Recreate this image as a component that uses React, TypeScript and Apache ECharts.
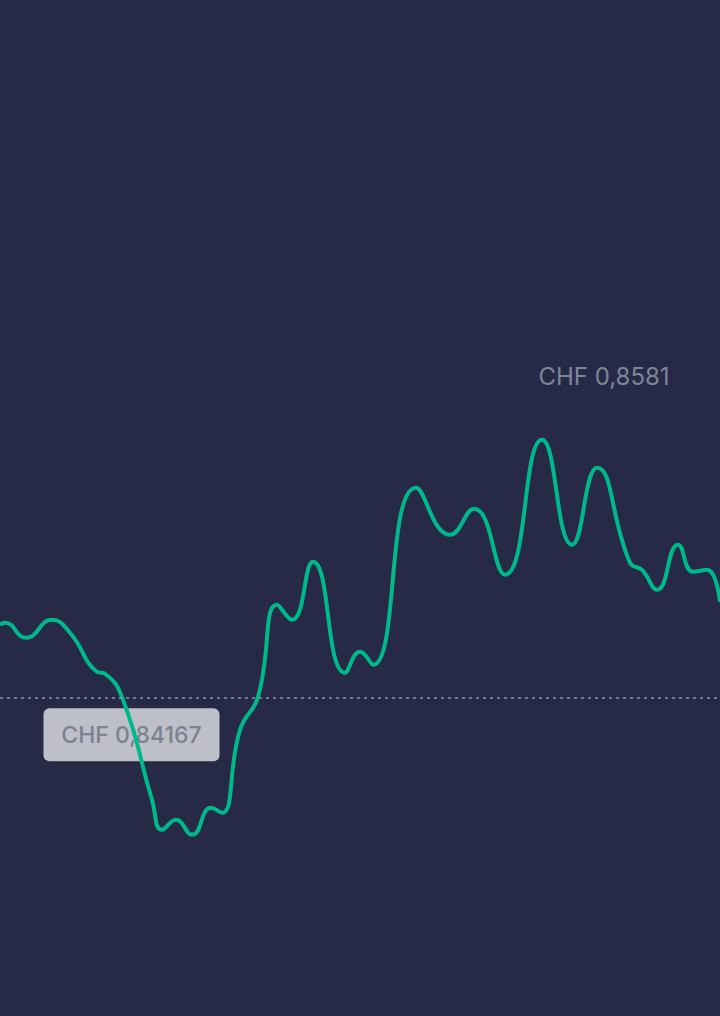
import React, { useEffect, useRef } from "react";
import * as echarts from "echarts";

const refValue = 0.84167;
const refLabel = "CHF 0,84167";

// hour of the period (0..720) and the CHF rate at that hour
const hours: number[] = [
  0, 5, 26, 52, 70, 97, 105, 123, 152, 162, 176, 192, 211, 222, 240, 258, 277, 292, 313, 345,
  360, 373, 416, 450, 474, 505, 542, 572, 597, 630, 642, 657, 678, 693, 707, 720,
];

const rates: number[] = [
  0.84632, 0.84645, 0.84549, 0.84664, 0.84581, 0.84333, 0.8432, 0.84154, 0.83517, 0.83326,
  0.8339, 0.83294, 0.83466, 0.83434, 0.83963, 0.84173, 0.84759, 0.84664, 0.85033, 0.84326,
  0.8446, 0.84377, 0.85505, 0.85205, 0.85371, 0.84951, 0.8581, 0.85142, 0.85632, 0.85027,
  0.84982, 0.84855, 0.85142, 0.8497, 0.84982, 0.84779,
];

const fmtChf = (v: number, d: number) => "CHF " + v.toFixed(d).replace(".", ",");

export default function App() {
  const ref = useRef<HTMLDivElement>(null);

  useEffect(() => {
    if (!ref.current) return;
    const chart = echarts.init(ref.current, undefined, { renderer: "svg" });
    chart.setOption({
      animation: false,
      backgroundColor: "#262a47",
      grid: { left: 0, right: 0, top: 253, bottom: 56.5 },
      xAxis: { type: "value", min: 0, max: 720, show: false },
      yAxis: { type: "value", min: 0.825, max: 0.87, show: false },
      series: [
        {
          type: "line",
          data: hours.map((h, i) => [h, rates[i]]),
          smooth: 0.5,
          symbol: "none",
          lineStyle: { color: "#00b98b", width: 4 },
          markLine: {
            silent: true,
            symbol: "none",
            precision: 5,
            label: { show: false },
            lineStyle: { color: "#8f93a6", width: 1.5, type: [3, 4] },
            data: [{ yAxis: refValue }],
          },
          markPoint: {
            silent: true,
            symbol: "circle",
            symbolSize: 0,
            data: [{ type: "max", valueDim: "y" }],
            label: {
              show: true,
              position: "top",
              distance: 0,
              offset: [62, -51],
              formatter: (p: any) => fmtChf(Array.isArray(p.value) ? p.value[1] : p.value, 4),
              color: "#7e8598",
              fontSize: 24,
              fontFamily: "Inter",
              fontWeight: 400,
            },
          },
        },
      ],
    });

    const py = chart.convertToPixel({ yAxisIndex: 0 }, refValue) as number;
    chart.setOption({
      graphic: [
        {
          type: "group",
          left: 43.5,
          top: py + 10.5,
          z: 100,
          children: [
            {
              type: "rect",
              shape: { x: 0, y: 0, width: 176, height: 53, r: 6 },
              style: { fill: "rgba(255,255,255,0.7)" },
            },
            {
              type: "text",
              x: 88,
              y: 27,
              style: {
                text: refLabel,
                fill: "#7a838f",
                font: "500 23px Inter",
                align: "center",
                verticalAlign: "middle",
              },
            },
          ],
        },
      ],
    });

    return () => chart.dispose();
  }, []);

  return (
    <div
      ref={ref}
      style={{ position: "fixed", left: 0, top: 0, width: 720, height: 1016 }}
    />
  );
}
